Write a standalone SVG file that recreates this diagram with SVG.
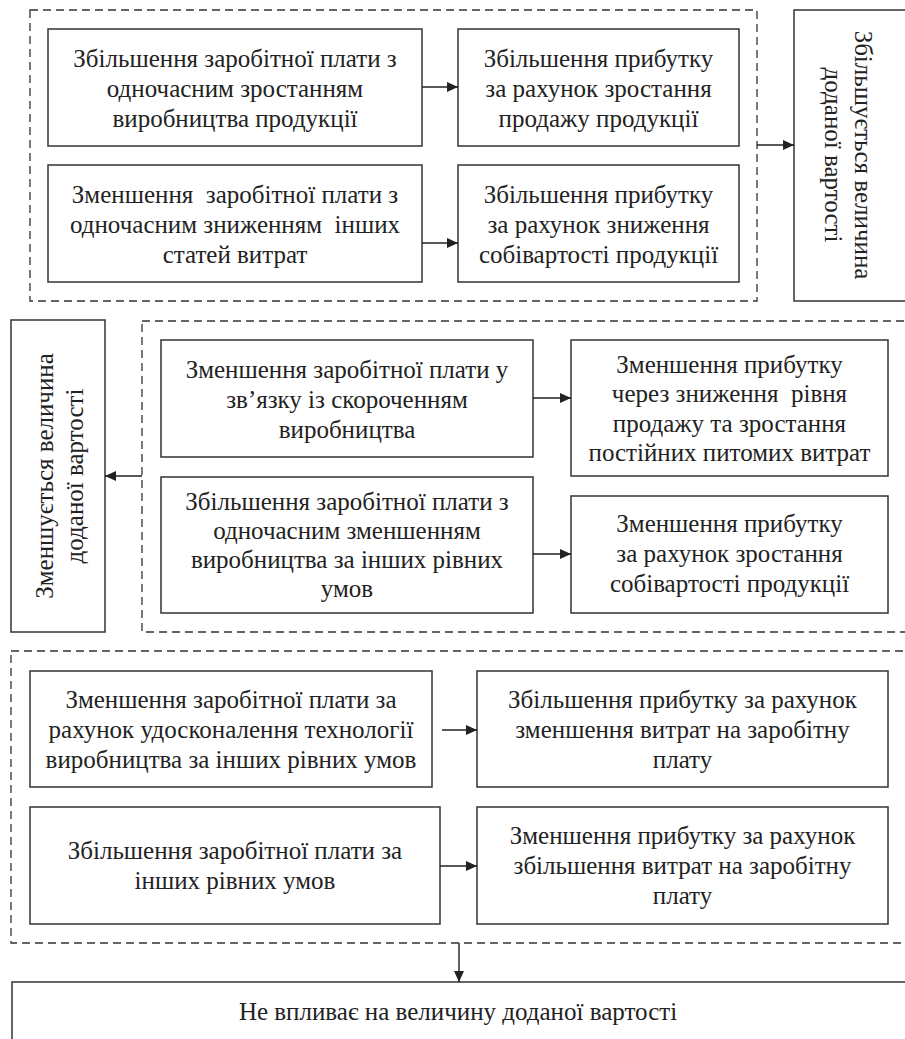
<svg xmlns="http://www.w3.org/2000/svg" width="905" height="1039" viewBox="0 0 905 1039">
<style>
.box{fill:#fff;stroke:#333;stroke-width:1.5}
.dash{fill:none;stroke:#333;stroke-width:1.3;stroke-dasharray:8 5}
.t{font-family:'Liberation Serif','Times New Roman',serif;font-size:25px;fill:#222;text-anchor:middle}
.c{stroke:#222;stroke-width:1.4;fill:none;marker-end:url(#ah)}
</style>
<defs>
<marker id="ah" markerUnits="userSpaceOnUse" markerWidth="12" markerHeight="10" refX="11" refY="5" orient="auto">
<path d="M0,0 L11,5 L0,10 Z" fill="#222"/>
</marker>
</defs>
<rect width="905" height="1039" fill="#fff"/>

<g id="group1">
<rect class="dash" x="30" y="10" width="727" height="291"/>
</g>
<g id="group2">
<rect class="dash" x="142" y="321" width="780" height="311"/>
</g>
<g id="group3">
<rect class="dash" x="11" y="651" width="910" height="292"/>
</g>

<g id="n1">
<rect class="box" x="48" y="29" width="374" height="117"/>
<text class="t" x="235" y="67">Збільшення заробітної плати з</text>
<text class="t" x="235" y="97">одночасним зростанням</text>
<text class="t" x="235" y="127">виробництва продукції</text>
</g>
<g id="n2">
<rect class="box" x="48" y="165" width="374" height="117"/>
<text class="t" x="235" y="203" xml:space="preserve">Зменшення  заробітної плати з</text>
<text class="t" x="235" y="233" xml:space="preserve">одночасним зниженням  інших</text>
<text class="t" x="235" y="263">статей витрат</text>
</g>
<g id="n3">
<rect class="box" x="458" y="29" width="281" height="117"/>
<text class="t" x="598.5" y="67">Збільшення прибутку</text>
<text class="t" x="598.5" y="97">за рахунок зростання</text>
<text class="t" x="598.5" y="127">продажу продукції</text>
</g>
<g id="n4">
<rect class="box" x="458" y="165" width="281" height="117"/>
<text class="t" x="598.5" y="203">Збільшення прибутку</text>
<text class="t" x="598.5" y="233">за рахунок зниження</text>
<text class="t" x="598.5" y="263">собівартості продукції</text>
</g>
<g id="nA">
<rect class="box" x="794" y="10" width="130" height="291"/>
<g transform="translate(840,155) rotate(90)">
<text class="t" x="0" y="-15">Збільшується величина</text>
<text class="t" x="0" y="15">доданої вартості</text>
</g>
</g>

<g id="nB">
<rect class="box" x="11" y="320" width="94" height="312"/>
<g transform="translate(68,476) rotate(-90)">
<text class="t" x="0" y="-15">Зменшується величина</text>
<text class="t" x="0" y="15">доданої вартості</text>
</g>
</g>
<g id="n5">
<rect class="box" x="161" y="340" width="372" height="117"/>
<text class="t" x="347" y="378">Зменшення заробітної плати у</text>
<text class="t" x="347" y="408">зв’язку із скороченням</text>
<text class="t" x="347" y="438">виробництва</text>
</g>
<g id="n6">
<rect class="box" x="161" y="477" width="372" height="136"/>
<text class="t" x="347" y="510">Збільшення заробітної плати з</text>
<text class="t" x="347" y="539">одночасним зменшенням</text>
<text class="t" x="347" y="568">виробництва за інших рівних</text>
<text class="t" x="347" y="597">умов</text>
</g>
<g id="n7">
<rect class="box" x="571" y="340" width="317" height="136"/>
<text class="t" x="729.5" y="373">Зменшення прибутку</text>
<text class="t" x="729.5" y="402" xml:space="preserve">через зниження  рівня</text>
<text class="t" x="729.5" y="432">продажу та зростання</text>
<text class="t" x="729.5" y="461">постійних питомих витрат</text>
</g>
<g id="n8">
<rect class="box" x="571" y="496" width="317" height="117"/>
<text class="t" x="729.5" y="532">Зменшення прибутку</text>
<text class="t" x="729.5" y="562">за рахунок зростання</text>
<text class="t" x="729.5" y="592">собівартості продукції</text>
</g>

<g id="n9">
<rect class="box" x="30" y="671" width="402" height="116"/>
<text class="t" x="231" y="708">Зменшення заробітної плати за</text>
<text class="t" x="231" y="738">рахунок удосконалення технології</text>
<text class="t" x="231" y="768">виробництва за інших рівних умов</text>
</g>
<g id="n10">
<rect class="box" x="30" y="807" width="410" height="117"/>
<text class="t" x="235" y="859">Збільшення заробітної плати за</text>
<text class="t" x="235" y="889">інших рівних умов</text>
</g>
<g id="n11">
<rect class="box" x="477" y="671" width="411" height="116"/>
<text class="t" x="682.5" y="708">Збільшення прибутку за рахунок</text>
<text class="t" x="682.5" y="738">зменшення витрат на заробітну</text>
<text class="t" x="682.5" y="768">плату</text>
</g>
<g id="n12">
<rect class="box" x="477" y="807" width="411" height="117"/>
<text class="t" x="682.5" y="844">Зменшення прибутку за рахунок</text>
<text class="t" x="682.5" y="874">збільшення витрат на заробітну</text>
<text class="t" x="682.5" y="904">плату</text>
</g>
<g id="nC">
<rect class="box" x="12" y="982" width="910" height="80"/>
<text class="t" x="458" y="1020">Не впливає на величину доданої вартості</text>
</g>

<g id="connectors">
<line class="c" x1="422" y1="87" x2="458" y2="87"/>
<line class="c" x1="422" y1="243" x2="458" y2="243"/>
<line class="c" x1="757" y1="145" x2="794" y2="145"/>
<line class="c" x1="533" y1="398" x2="571" y2="398"/>
<line class="c" x1="533" y1="554" x2="571" y2="554"/>
<line class="c" x1="142" y1="476" x2="105" y2="476"/>
<line class="c" x1="442" y1="730" x2="477" y2="730"/>
<line class="c" x1="440" y1="866" x2="477" y2="866"/>
<line class="c" x1="459" y1="943" x2="459" y2="982"/>
</g>
</svg>
